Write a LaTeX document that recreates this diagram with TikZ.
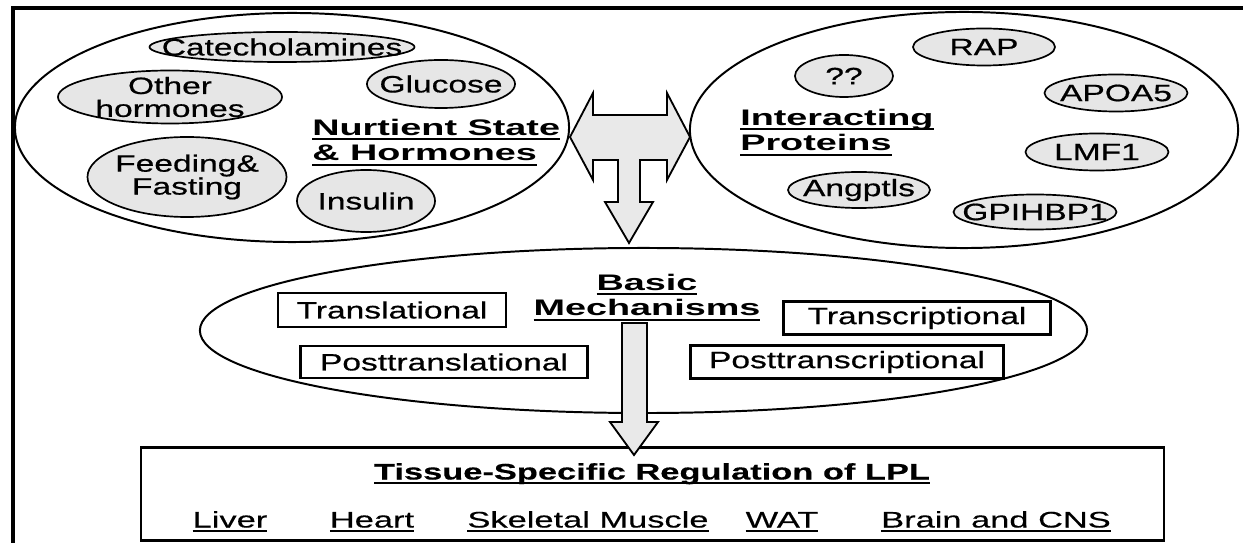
\documentclass[tikz,border=0pt]{standalone}
\usepackage{fontspec}
\setmainfont[FakeStretch=1.42, FakeBold=0.6]{Liberation Sans}
\newfontfamily\headfont[FakeStretch=1.68]{Liberation Sans}
\newfontfamily\tissuefont[FakeStretch=1.53, FakeBold=0.4]{Liberation Sans}
\usepackage{tikz}
\usetikzlibrary{shapes.geometric}
\usepackage{xcolor}
\definecolor{BubbleGray}{HTML}{E6E6E6}
\definecolor{ArrowGray}{HTML}{E9E9E9}
\newcommand{\labelfont}{\fontsize{16.8}{16.3}\selectfont}
\newcommand{\ulthick}[1]{\setbox0\hbox{#1}\leavevmode\rlap{\rule[-3.4pt]{\wd0}{1.6pt}}\box0}
\newcommand{\ulthin}[1]{\setbox0\hbox{#1}\leavevmode\rlap{\rule[-3pt]{\wd0}{1.1pt}}\box0}

\begin{document}
\begin{tikzpicture}[x=0.025cm, y=-0.025cm,
    bigoval/.style={ellipse, draw, line width=1.4pt, fill=white, inner sep=0pt},
    bubble/.style={ellipse, draw, line width=1.2pt, fill=BubbleGray, inner sep=0pt},
    mechbox/.style={rectangle, draw, line width=1.5pt, fill=white, inner sep=0pt, font=\labelfont},
    heading/.style={font=\headfont\bfseries\fontsize{16}{18.4}\selectfont, align=left, inner sep=0pt},
    tissuetext/.style={font=\tissuefont\fontsize{16}{17}\selectfont, inner sep=0pt, anchor=base},
    blockarrow/.style={draw, line width=1.3pt, fill=ArrowGray, line join=miter},
    every label/.style={font=\labelfont, align=center, inner sep=0pt}]
    \useasboundingbox (0,0) rectangle (1243,543);
    \draw[line width=2.4pt] (13,543) -- (13,8) -- (1243,8);

    % nutrient state and hormones
    \node[bigoval, minimum width=13.85cm, minimum height=5.725cm] (nutrient) at (292,127.5) {};
    \node[bubble, minimum width=6.625cm, minimum height=0.75cm, label=center:Catecholamines] (catechol) at (282,47) {};
    \node[bubble, minimum width=3.7cm, minimum height=1.2cm, label=center:Glucose] (glucose) at (441,84) {};
    \node[bubble, minimum width=5.6cm, minimum height=1.325cm, label={center:{Other\\hormones}}] (otherhorm) at (170,97) {};
    \node[bubble, minimum width=4.975cm, minimum height=2cm, label={center:{Feeding\&\\Fasting}}] (feeding) at (187,177) {};
    \node[bubble, minimum width=3.45cm, minimum height=1.55cm, label=center:Insulin] (insulin) at (366,201) {};
    % base of a two-line node = its last line
    \node[heading, anchor=base west] (nutrienthead) at (312,161) {\ulthick{Nurtient State}\\\ulthick{\& Hormones}};

    % interacting proteins
    \node[bigoval, minimum width=13.7cm, minimum height=5.9cm] (proteins) at (964,130) {};
    \node[bubble, minimum width=3.55cm, minimum height=0.925cm, label=center:RAP] (rap) at (984,47) {};
    \node[bubble, minimum width=2.45cm, minimum height=1.05cm, label=center:??] (unknown) at (844,76) {};
    \node[bubble, minimum width=3.575cm, minimum height=0.925cm, label=center:APOA5] (apoa) at (1116,93) {};
    \node[bubble, minimum width=3.575cm, minimum height=0.925cm, label=center:LMF1] (lmf) at (1097,152) {};
    \node[bubble, minimum width=3.55cm, minimum height=0.9cm, label=center:Angptls] (angptl) at (859,190) {};
    \node[bubble, minimum width=4.075cm, minimum height=0.875cm, label=center:GPIHBP1] (gpihbp) at (1035,212) {};
    \node[heading, anchor=base west] (proteinhead) at (740,151) {\ulthick{Interacting}\\\ulthick{Proteins}};

    % basic mechanisms
    \node[bigoval, minimum width=22.175cm, minimum height=4.125cm] (mechanism) at (643.5,330.5) {};
    \node[heading, align=center, anchor=base] (mechhead) at (647,316) {\ulthick{Basic}\\\ulthick{Mechanisms}};
    \node[mechbox, minimum width=5.7cm, minimum height=0.85cm] (transl) at (392,310) {Translational};
    \node[mechbox, minimum width=7.175cm, minimum height=0.8cm] (posttransl) at (444,362) {Posttranslational};
    \node[mechbox, minimum width=6.675cm, minimum height=0.825cm] (transc) at (917,318) {Transcriptional};
    \node[mechbox, minimum width=7.825cm, minimum height=0.825cm] (posttransc) at (847,362) {Posttranscriptional};

    % double arrow with stem
    \coordinate (dualtip) at (570,137);
    \draw[blockarrow] (dualtip) -- ++(23,-44) -- ++(0,22) -- ++(74,0) -- ++(0,-22) -- ++(23,44)
        -- ++(-23,43) -- ++(0,-20) -- ++(-27,0) -- ++(0,42) -- ++(13,0) -- ++(-24,41)
        -- ++(-24,-41) -- ++(13,0) -- ++(0,-42) -- ++(-25,0) -- ++(0,20) -- cycle;

    % tissue specific regulation
    \node[draw, line width=1.5pt, minimum width=25.575cm, minimum height=2.325cm, inner sep=0pt] (tissue) at (652.5,494) {};
    \node[tissuetext, font=\tissuefont\bfseries\fontsize{16}{17}\selectfont] (tissuehead) at (652,479.5) {\ulthin{Tissue-Specific Regulation of LPL}};
    \foreach \x/\organ in {230/Liver,372/Heart,588/Skeletal Muscle,782/WAT,996/Brain and CNS} {
     \node[tissuetext] (organ\x) at (\x,527.5) {\ulthin{\organ}};
    }

    \coordinate (stemtop) at (622,323);
    \draw[blockarrow] (stemtop) -- ++(25,0) -- ++(0,99) -- ++(11,0) -- ++(-24,33) -- ++(-24,-33) -- ++(12,0) -- cycle;
\end{tikzpicture}
\end{document}
